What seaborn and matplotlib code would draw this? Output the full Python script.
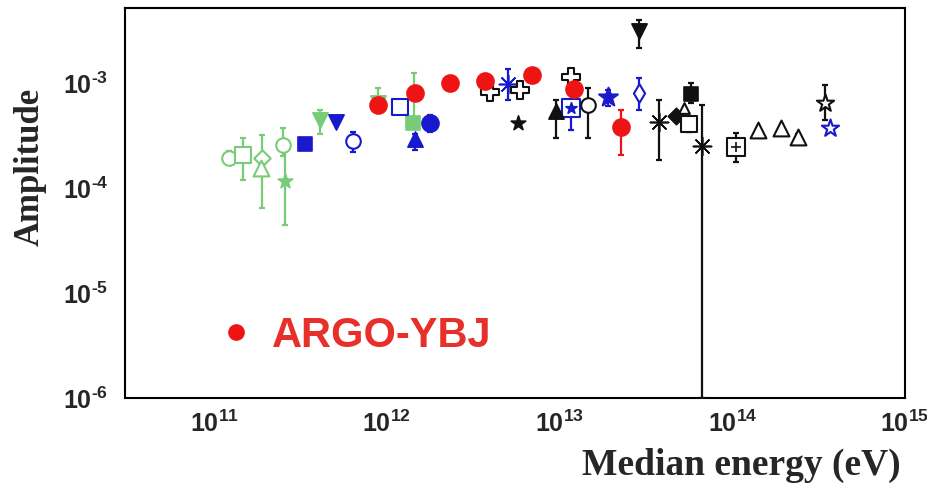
import numpy as np
import pandas as pd
import matplotlib
matplotlib.use("Agg")
import matplotlib.pyplot as plt
from matplotlib.lines import Line2D
from matplotlib.ticker import LogLocator, FuncFormatter, NullFormatter
import seaborn as sns

# ---- ARGO-YBJ ----
argo_E = [8.93e11, 1.46e12, 2.33e12, 3.72e12, 6.97e12, 1.21e13, 2.26e13]
argo_A = [6.17e-4, 8.03e-4, 1.00e-3, 1.05e-3, 1.19e-3, 8.77e-4, 3.81e-4]
argo_lo = [5.9e-4, 7.7e-4, 9.6e-4, 1.00e-3, 1.13e-3, 8.3e-4, 2.06e-4]
argo_hi = [6.5e-4, 8.4e-4, 1.04e-3, 1.10e-3, 1.25e-3, 9.2e-4, 5.53e-4]

# ---- low-energy measurements (green) ----
green_E = [1.22e11, 1.47e11, 1.90e11, 1.87e11, 2.51e11, 2.58e11, 4.11e11, 8.9e11, 1.43e12, 1.41e12]
green_A = [1.93e-4, 2.06e-4, 1.93e-4, 1.55e-4, 2.57e-4, 1.17e-4, 4.45e-4, 6.5e-4, 8.0e-4, 4.16e-4]
green_lo = [1.65e-4, 1.19e-4, 6.5e-5, np.nan, 2.0e-4, 4.4e-5, 3.3e-4, 5.5e-4, 4.2e-4, np.nan]
green_hi = [2.25e-4, 2.99e-4, 3.2e-4, np.nan, 3.7e-4, 2.3e-4, 5.5e-4, 8.9e-4, 1.24e-3, np.nan]

# ---- blue measurements ----
blue_E = [3.37e11, 5.09e11, 6.4e11, 1.2e12, 1.46e12, 1.79e12, 5.06e12, 1.16e13, 1.92e13, 2.87e13, 3.67e14]
blue_A = [2.63e-4, 4.25e-4, 2.8e-4, 5.9e-4, 2.93e-4, 4.16e-4, 9.78e-4, 5.78e-4, 7.35e-4, 8.03e-4, 3.73e-4]
blue_lo = [np.nan, np.nan, 2.2e-4, 5.1e-4, 2.3e-4, 3.4e-4, 6.9e-4, 3.56e-4, 6.0e-4, 5.5e-4, np.nan]
blue_hi = [np.nan, np.nan, 3.4e-4, 6.6e-4, 3.3e-4, 5.0e-4, 1.35e-3, 7.0e-4, 8.5e-4, 1.12e-3, np.nan]

# ---- black measurements ----
black_E = [5.78e12, 3.98e12, 5.94e12, 1.16e13, 9.48e12, 1.47e13, 2.87e13, 3.75e13, 4.7e13,
           5.23e13, 5.74e13, 5.6e13, 6.65e13, 1.05e14, 1.41e14, 1.91e14, 2.4e14, 3.43e14]
black_A = [4.16e-4, 8.2e-4, 8.57e-4, 1.14e-3, 5.41e-4, 6.17e-4, 3.13e-3, 4.25e-4, 4.85e-4,
           5.78e-4, 7.85e-4, 4.07e-4, 2.51e-4, 2.45e-4, 3.56e-4, 3.73e-4, 3.06e-4, 6.45e-4]
black_lo = [np.nan, np.nan, np.nan, np.nan, 3.0e-4, 3.0e-4, 2.15e-3, 1.85e-4, np.nan,
            np.nan, 6.5e-4, 3.4e-4, 1.0e-6, 1.77e-4, np.nan, np.nan, 2.8e-4, 4.45e-4]
black_hi = [np.nan, np.nan, np.nan, np.nan, 6.9e-4, 8.96e-4, 3.98e-3, 6.9e-4, np.nan,
            np.nan, 9.9e-4, 4.6e-4, 6.17e-4, 3.34e-4, np.nan, np.nan, 3.3e-4, 9.5e-4]

x_ticks = [1e11, 1e12, 1e13, 1e14, 1e15]
y_ticks = [1e-6, 1e-5, 1e-4, 1e-3]

# ---- styling ----
RED = "#ef1414"
RED_TEXT = "#e8302a"
GREEN = "#78cc78"
BLUE = "#1818cc"
BLACK = "#111111"

ASTER = (8, 2, 0)
# marker code -> list of layers (marker, filled, size)
MARKS = {
    "o": [("o", True, 150)], "oo": [("o", False, 110)],
    "s": [("s", True, 110)], "so": [("s", False, 120)],
    "Do": [("D", False, 70)], "D": [("D", True, 70)],
    "^": [("^", True, 120)], "^o": [("^", False, 130)], "^small": [("^", False, 60)],
    "v": [("v", True, 120)],
    "*": [("*", True, 120)], "*o": [("*", False, 170)],
    "ast": [(ASTER, True, 170)],
    "Po": [("P", False, 150)],
    "do": [("d", False, 90)],
    "s*": [("s", False, 150), ("*", True, 70)],
    "**": [("*", False, 200), ("*", True, 60)],
    "s+": [("s", False, 150), ("+", True, 50)],
}
green_marks = ["oo", "so", "Do", "^o", "oo", "*", "v", "v", "*", "s"]
blue_marks = ["s", "v", "oo", "so", "^", "o", "ast", "s*", "**", "do", "*o"]
black_marks = ["*", "Po", "Po", "Po", "^", "oo", "v", "ast", "D",
               "^small", "s", "so", "ast", "s+", "^o", "^o", "^o", "*o"]

sns.set_theme(style="white")
plt.rcParams["mathtext.fontset"] = "custom"
plt.rcParams["mathtext.bf"] = "Liberation Sans:bold"
plt.rcParams["mathtext.rm"] = "Liberation Sans:bold"
plt.rcParams["font.family"] = ["Liberation Sans", "DejaVu Sans"]

fig = plt.figure(figsize=(9.28, 4.87), dpi=100)
ax = fig.add_axes([125 / 928, 1 - 398 / 487, 780 / 928, 390 / 487])
ax.set_xscale("log")
ax.set_yscale("log")
ax.set_xlim(3.05e10, 1.0e15)
ax.set_ylim(1e-6, 10 ** -2.286)


def draw(E, A, lo, hi, marks, color, z):
    df = pd.DataFrame(dict(E=E, A=A, lo=lo, hi=hi, m=marks))
    err = df.dropna(subset=["lo"])
    if len(err):
        ax.errorbar(err["E"], err["A"], yerr=[err["A"] - err["lo"], err["hi"] - err["A"]],
                    fmt="none", ecolor=color, elinewidth=1.6, capsize=2, capthick=1.6,
                    zorder=z)
    for code, sub in df.groupby("m", sort=False):
        for mk, filled, size in MARKS[code]:
            if filled:
                sns.scatterplot(data=sub, x="E", y="A", ax=ax, marker=mk, s=size,
                                color=color, edgecolor=color, linewidth=1.2,
                                zorder=z + 1, legend=False)
            else:
                sns.scatterplot(data=sub, x="E", y="A", ax=ax, marker=mk, s=size,
                                facecolor="white", edgecolor=color, linewidth=1.5,
                                zorder=z + 1, legend=False)


draw(green_E, green_A, green_lo, green_hi, green_marks, GREEN, 2)
draw(blue_E, blue_A, blue_lo, blue_hi, blue_marks, BLUE, 4)
draw(black_E, black_A, black_lo, black_hi, black_marks, BLACK, 4)
draw(argo_E, argo_A, argo_lo, argo_hi, ["o"] * len(argo_E), RED, 6)

# axes frame and ticks
for sp in ax.spines.values():
    sp.set_color("black")
    sp.set_linewidth(1.5)
ax.xaxis.set_major_locator(LogLocator(base=10, numticks=10))
ax.yaxis.set_major_locator(LogLocator(base=10, numticks=10))
ax.xaxis.set_minor_locator(LogLocator(base=10, subs=np.arange(2, 10), numticks=20))
ax.yaxis.set_minor_locator(LogLocator(base=10, subs=np.arange(2, 10), numticks=20))


def pow_label(v, pos):
    e = int(round(np.log10(v)))
    sign = r"\text{-}" if e < 0 else ""
    return r"$\mathbf{10^{%s%d}}$" % (sign, abs(e))


fmt = FuncFormatter(pow_label)
ax.xaxis.set_major_formatter(fmt)
ax.yaxis.set_major_formatter(fmt)
ax.xaxis.set_minor_formatter(NullFormatter())
ax.yaxis.set_minor_formatter(NullFormatter())
ax.tick_params(which="both", direction="in", top=False, right=False, color="black", width=1.2)
ax.tick_params(which="major", length=9, labelsize=18)
ax.tick_params(which="minor", length=5)
ax.tick_params(axis="x", which="major", pad=9)
ax.tick_params(axis="y", which="major", pad=12)

ax.set_xlabel("Median energy (eV)", fontsize=27, fontweight="bold",
              family="Liberation Serif", ha="right", va="center")
ax.xaxis.set_label_coords(0.995, -0.172)
ax.set_ylabel("Amplitude", fontsize=25, fontweight="bold", family="Liberation Serif",
              va="center")
ax.yaxis.set_label_coords(-0.122, 0.592)

handle = Line2D([], [], marker="o", ls="", color=RED, markersize=11)
leg = ax.legend([handle], ["ARGO-YBJ"], loc="center left", bbox_to_anchor=(0.121, 0.159),
                frameon=False, borderpad=0, borderaxespad=0, handlelength=0.8,
                handletextpad=0.47, prop=dict(family="Liberation Sans", weight="bold", size=30))
for t in leg.get_texts():
    t.set_color(RED_TEXT)

fig.savefig("out.png", dpi=100, facecolor="white")
